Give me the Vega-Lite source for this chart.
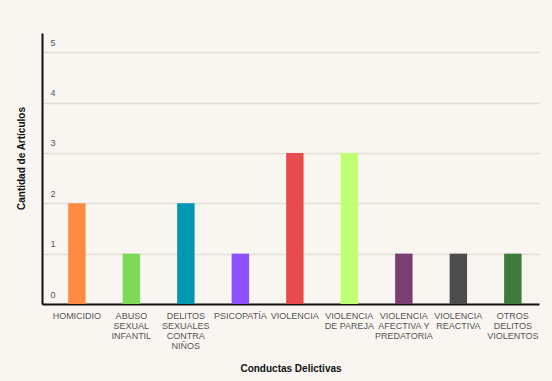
{
  "$schema": "https://vega.github.io/schema/vega-lite/v6.json",
  "autosize": {"type": "none"},
  "width": 497,
  "height": 271,
  "padding": {"left": 42, "top": 33, "right": 13, "bottom": 77},
  "background": "#f9f6f1",
  "data": {
    "values": [
      {"conducta": "HOMICIDIO", "articulos": 2, "color": "#ff8c42"},
      {"conducta": "ABUSO SEXUAL INFANTIL", "articulos": 1, "color": "#7ed957"},
      {"conducta": "DELITOS SEXUALES CONTRA NIÑOS", "articulos": 2, "color": "#0097b2"},
      {"conducta": "PSICOPATÍA", "articulos": 1, "color": "#8c52ff"},
      {"conducta": "VIOLENCIA", "articulos": 3, "color": "#e84b4f"},
      {"conducta": "VIOLENCIA DE PAREJA", "articulos": 3, "color": "#c1ff72"},
      {"conducta": "VIOLENCIA AFECTIVA Y PREDATORIA", "articulos": 1, "color": "#7a3d74"},
      {"conducta": "VIOLENCIA REACTIVA", "articulos": 1, "color": "#4d4d4d"},
      {"conducta": "OTROS DELITOS VIOLENTOS", "articulos": 1, "color": "#3f7a3f"}
    ]
  },
  "mark": {"type": "bar"},
  "encoding": {
    "x": {
      "field": "conducta",
      "type": "nominal",
      "sort": null,
      "scale": {"paddingInner": 0.68, "paddingOuter": 0.4, "align": 0.6},
      "axis": {
        "title": "Conductas Delictivas",
        "titleFont": "Liberation Sans",
        "titleFontSize": 10,
        "titleFontWeight": "bold",
        "titleColor": "#111111",
        "titlePadding": 13,
        "labelAngle": 0,
        "labelFont": "Liberation Sans",
        "labelFontSize": 9,
        "labelColor": "#555555",
        "labelLineHeight": 10,
        "labelPadding": 7,
        "labelBaseline": "top",
        "ticks": false,
        "domainColor": "#111111",
        "domainWidth": 2,
        "labelExpr": "datum.label == 'ABUSO SEXUAL INFANTIL' ? ['ABUSO','SEXUAL','INFANTIL'] : datum.label == 'DELITOS SEXUALES CONTRA NIÑOS' ? ['DELITOS','SEXUALES','CONTRA','NIÑOS'] : datum.label == 'VIOLENCIA DE PAREJA' ? ['VIOLENCIA','DE PAREJA'] : datum.label == 'VIOLENCIA AFECTIVA Y PREDATORIA' ? ['VIOLENCIA','AFECTIVA Y','PREDATORIA'] : datum.label == 'VIOLENCIA REACTIVA' ? ['VIOLENCIA','REACTIVA'] : datum.label == 'OTROS DELITOS VIOLENTOS' ? ['OTROS','DELITOS','VIOLENTOS'] : datum.label"
      }
    },
    "y": {
      "field": "articulos",
      "type": "quantitative",
      "scale": {"domain": [0, 5.38], "nice": false},
      "axis": {
        "title": "Cantidad de Artículos",
        "titleFont": "Liberation Sans",
        "titleFontSize": 10,
        "titleFontWeight": "bold",
        "titleColor": "#111111",
        "titlePadding": 16,
        "titleY": 125,
        "values": [0, 1, 2, 3, 4, 5],
        "labelFont": "Liberation Sans",
        "labelFontSize": 9,
        "labelColor": "#555555",
        "labelAlign": "left",
        "labelBaseline": "bottom",
        "labelPadding": -8,
        "labelOffset": -5,
        "ticks": false,
        "grid": true,
        "gridColor": "#e2ded8",
        "gridWidth": 1.5,
        "domainColor": "#111111",
        "domainWidth": 2
      }
    },
    "color": {"field": "color", "type": "nominal", "scale": null, "legend": null}
  },
  "config": {"view": {"stroke": null}}
}
